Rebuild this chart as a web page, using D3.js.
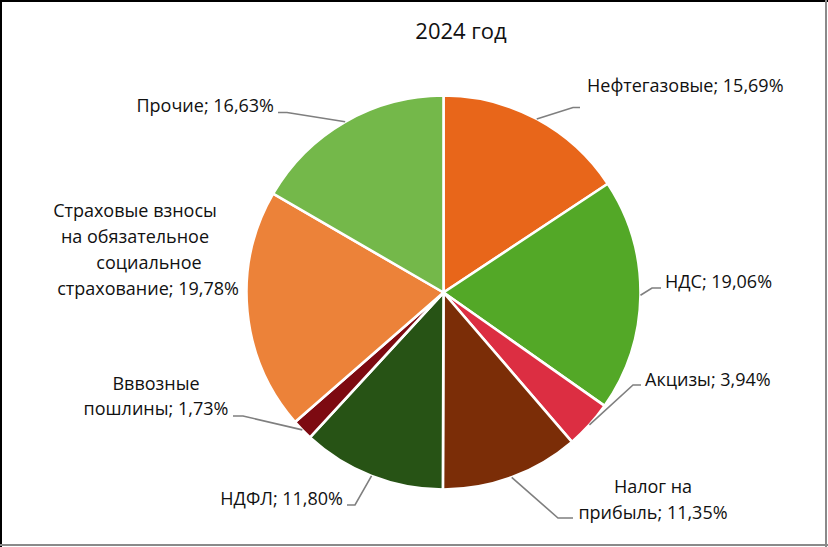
<!DOCTYPE html>
<html><head><meta charset="utf-8">
<script src="https://cdn.jsdelivr.net/npm/d3@7/dist/d3.min.js"></script>
<style>
html,body{margin:0;padding:0;background:#fff;}
svg{display:block;}
text{font-family:"Open Sans","Noto Sans",sans-serif;fill:#111;}
</style></head>
<body>
<svg id="chart" width="828" height="547"></svg>
<script>
// ---- data ----
const title = "2024 год";
const categories = ["Нефтегазовые","НДС","Акцизы","Налог на прибыль","НДФЛ","Вввозные пошлины","Страховые взносы на обязательное социальное страхование","Прочие"];
const values = [15.69, 19.06, 3.94, 11.35, 11.80, 1.73, 19.78, 16.63];
const labelLines = [
  ["Нефтегазовые; 15,69%"],
  ["НДС; 19,06%"],
  ["Акцизы; 3,94%"],
  ["Налог на","прибыль; 11,35%"],
  ["НДФЛ; 11,80%"],
  ["Вввозные","пошлины; 1,73%"],
  ["Страховые взносы","на  обязательное","социальное","страхование; 19,78%"],
  ["Прочие; 16,63%"]
];

// ---- styles / layout ----
const colors = ["#E8661A","#53A827","#DC2E42","#7B2D07","#275315","#7D0A11","#EC8239","#74B84A"];
// label layout: leader elbow (ex,ey), end (lx), text anchor, text position
const layout = [
  {elbow:[573,107.5], end:580, anchor:"start", x:587, y:92, lh:25},
  {elbow:[652,288],  end:661, anchor:"start", x:665, y:288, lh:25},
  {elbow:[633,385],  end:641, anchor:"start", x:645, y:386, lh:25},
  {elbow:[558,518],  end:573, anchor:"middle", x:653, y:493, lh:26, lineX:[653,653]},
  {elbow:[355,505],  end:347, anchor:"end", x:343, y:505, lh:25},
  {elbow:[243,416],  end:233, anchor:"middle", x:156, y:390, lh:25},
  {elbow:null, anchor:"middle", x:148, y:217, lh:26, lineX:[135,135,149,148]},
  {elbow:[287,112.5], end:278, anchor:"end", x:274, y:112, lh:25}
];

const W = 828, H = 547;
const cx = 443.5, cy = 292.5, R = 197;
const svg = d3.select("#chart");

svg.append("rect").attr("x",0).attr("y",0).attr("width",W).attr("height",H).attr("fill","#fff");
// frame
svg.append("line").attr("x1",1).attr("y1",0).attr("x2",1).attr("y2",H).attr("stroke","#000").attr("stroke-width",2);
svg.append("line").attr("x1",0).attr("y1",1).attr("x2",W).attr("y2",1).attr("stroke","#000").attr("stroke-width",2);
svg.append("line").attr("x1",826).attr("y1",0).attr("x2",826).attr("y2",H).attr("stroke","#8a8a8a").attr("stroke-width",2);
svg.append("line").attr("x1",0).attr("y1",545).attr("x2",W).attr("y2",545).attr("stroke","#8a8a8a").attr("stroke-width",2);

svg.append("text").attr("x",461).attr("y",38.5).attr("text-anchor","middle")
  .style("font-size","22px").text(title);

const data = categories.map((c,i)=>({cat:c, value:values[i], i}));
const pie = d3.pie().value(d=>d.value).sort(null).startAngle(0).endAngle(2*Math.PI);
const arcs = pie(data);
const arc = d3.arc().innerRadius(0).outerRadius(R);

const g = svg.append("g").attr("transform",`translate(${cx},${cy})`);
g.selectAll("path.slice").data(arcs).join("path")
  .attr("class","slice")
  .attr("d",arc)
  .attr("fill",d=>colors[d.data.i])
  .attr("stroke","#fff").attr("stroke-width",2.6).attr("stroke-linejoin","round");

// leader lines
arcs.forEach(a=>{
  const L = layout[a.data.i];
  if(!L.elbow) return;
  const mid = (a.startAngle+a.endAngle)/2;
  const px = cx + R*Math.sin(mid), py = cy - R*Math.cos(mid);
  svg.append("polyline")
    .attr("points",`${px},${py} ${L.elbow[0]},${L.elbow[1]} ${L.end},${L.elbow[1]}`)
    .attr("fill","none").attr("stroke","#7f7f7f").attr("stroke-width",1.6);
});

// labels
arcs.forEach(a=>{
  const i = a.data.i, L = layout[i];
  const t = svg.append("text").style("font-size","18px").attr("text-anchor",L.anchor);
  labelLines[i].forEach((s,k)=>{
    t.append("tspan")
      .attr("x", L.lineX ? L.lineX[k] : L.x)
      .attr("y", L.y + k*L.lh)
      .text(s);
  });
});
</script>
</body></html>
